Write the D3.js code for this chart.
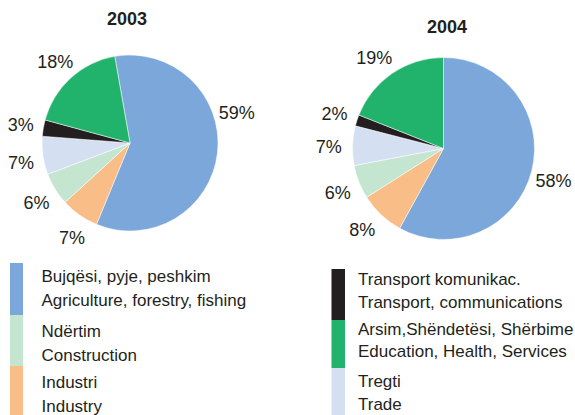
<!DOCTYPE html>
<html><head><meta charset="utf-8">
<script src="https://cdn.jsdelivr.net/npm/d3@7"></script>
<style>
html,body{margin:0;padding:0;background:#fff;}
svg{display:block;font-family:"Liberation Sans",Arial,sans-serif;}
</style></head>
<body><svg id="c" width="575" height="415"></svg>
<script>
// Pie order (clockwise from start)
const sectors = ["Agriculture", "Industry", "Construction", "Trade", "Transport", "Education"];
const values2003 = [59, 7, 6, 7, 3, 18];
const values2004 = [58, 8, 6, 7, 2, 19];
const years = ["2003", "2004"];
const sectorColors = ["#7ba7da", "#f9bd88", "#c4e6d1", "#d4dff1", "#231f20", "#21b26c"];

// Legend (bilingual)
const legendLeft = [
  {key: "Agriculture", sq: "Bujqësi, pyje, peshkim", en: "Agriculture, forestry, fishing"},
  {key: "Construction", sq: "Ndërtim", en: "Construction"},
  {key: "Industry", sq: "Industri", en: "Industry"}
];
const legendRight = [
  {key: "Transport", sq: "Transport komunikac.", en: "Transport, communications"},
  {key: "Education", sq: "Arsim,Shëndetësi, Shërbime", en: "Education, Health, Services"},
  {key: "Trade", sq: "Tregti", en: "Trade"}
];

// layout
const pies = [
  {year: years[0], values: values2003, cx: 130, cy: 143, r: 88, start: -10, titleX: 127, titleY: 25,
   labelShift: [-22, -3.5, -1, -2, 0, 0]},
  {year: years[1], values: values2004, cx: 443.5, cy: 148.5, r: 91, start: 0, titleX: 447, titleY: 33,
   labelShift: [2, 2, -1, -1, 0, -3]}
];

const color = d3.scaleOrdinal().domain(sectors).range(sectorColors);
const svg = d3.select("#c");

pies.forEach(p => {
  const g = svg.append("g").attr("transform", `translate(${p.cx},${p.cy})`);
  const s0 = p.start * Math.PI / 180;
  const pie = d3.pie().sort(null).value(d => d.v).startAngle(s0).endAngle(s0 + 2 * Math.PI);
  const data = pie(sectors.map((k, i) => ({k, v: p.values[i]})));
  const arc = d3.arc().innerRadius(0).outerRadius(p.r);
  g.selectAll("path").data(data).join("path")
    .attr("d", arc)
    .attr("fill", d => color(d.data.k))
    .attr("stroke", "#fff").attr("stroke-width", 0.5);
  const lr = p.r * 1.26;
  const ang = (d, i) => (d.startAngle + d.endAngle) / 2 + p.labelShift[i] * Math.PI / 180;
  g.selectAll("text.lbl").data(data).join("text")
    .attr("class", "lbl")
    .attr("x", (d, i) => Math.sin(ang(d, i)) * lr)
    .attr("y", (d, i) => -Math.cos(ang(d, i)) * lr)
    .attr("text-anchor", "middle").attr("dy", "0.36em")
    .attr("font-size", 18).attr("fill", "#231f20")
    .text(d => d.data.v + "%");
  svg.append("text").attr("x", p.titleX).attr("y", p.titleY)
    .attr("text-anchor", "middle").attr("font-size", 18).attr("font-weight", "bold")
    .attr("fill", "#231f20").text(p.year);
});

function legend(items, x0, barW, textX, tops, bottoms, base1, base2) {
  const g = svg.append("g");
  items.forEach((it, i) => {
    g.append("rect").attr("x", x0).attr("y", tops[i]).attr("width", barW)
      .attr("height", bottoms[i] - tops[i]).attr("fill", color(it.key));
    g.append("text").attr("x", textX).attr("y", base1[i]).attr("font-size", 17)
      .attr("fill", "#231f20").text(it.sq);
    g.append("text").attr("x", textX).attr("y", base2[i]).attr("font-size", 17)
      .attr("fill", "#231f20").text(it.en);
  });
}
legend(legendLeft, 10, 13, 41.5, [263, 315, 366], [315, 366, 420], [282, 337, 388], [306, 361, 412]);
legend(legendRight, 331.5, 13.5, 358, [269, 320, 368], [320, 368, 420], [285, 335, 387], [308, 357, 410]);
</script></body></html>
